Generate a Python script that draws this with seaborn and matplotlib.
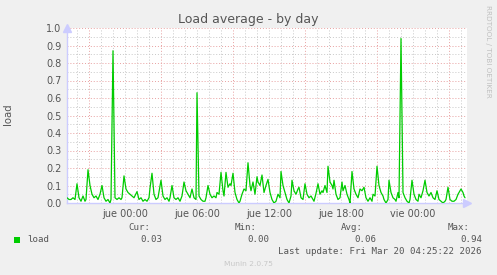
import matplotlib
matplotlib.use("Agg")
import matplotlib.pyplot as plt
import seaborn as sns
import pandas as pd
import numpy as np

# minutes relative to "jue 00:00"
minutes = [-290, -280, -270, -260, -250, -240, -230, -220, -210, -200, -195, -185, -175, -165, -155, -145,
           -135, -125, -115, -105, -95, -85, -75, -70, -60, -50, -40, -30, -20, -15, -5, 5, 15, 25, 35, 45,
           60, 70, 80, 90, 100, 110, 120, 125, 135, 145, 155, 165, 180, 190, 200, 210, 220, 225, 235, 245,
           255, 265, 275, 285, 295, 305, 315, 325, 335, 345, 355, 360, 370, 380, 390, 400, 405, 415, 425,
           435, 445, 455, 460, 470, 480, 490, 495, 505, 515, 525, 530, 540, 550, 560, 570, 575, 585, 595,
           605, 615, 625, 630, 640, 650, 660, 665, 675, 685, 695, 705, 715, 725, 735, 745, 755, 765, 775,
           780, 790, 800, 810, 820, 830, 835, 845, 855, 865, 870, 880, 890, 900, 910, 920, 930, 940, 945,
           955, 965, 975, 985, 990, 1000, 1010, 1015, 1025, 1035, 1040, 1045, 1055, 1065, 1075, 1085, 1090,
           1100, 1110, 1120, 1125, 1135, 1145, 1155, 1165, 1175, 1185, 1195, 1205, 1215, 1225, 1235, 1240,
           1250, 1260, 1270, 1280, 1290, 1295, 1305, 1315, 1320, 1330, 1340, 1350, 1355, 1365, 1370, 1380,
           1390, 1400, 1410, 1420, 1425, 1435, 1445, 1455, 1465, 1470, 1480, 1490, 1500, 1510, 1520, 1530,
           1540, 1550, 1560, 1570, 1580, 1590, 1600, 1605, 1615, 1625, 1635, 1645, 1655, 1665, 1675, 1680,
           1690, 1695, 1700]
load = [0.03, 0.02, 0.02, 0.03, 0.02, 0.11, 0.03, 0.01, 0.04, 0.01, 0.02, 0.19, 0.10, 0.05, 0.03, 0.04,
        0.02, 0.05, 0.10, 0.03, 0.01, 0.02, 0.00, 0.02, 0.87, 0.03, 0.02, 0.03, 0.02, 0.03, 0.155, 0.08,
        0.06, 0.05, 0.04, 0.03, 0.065, 0.02, 0.03, 0.01, 0.02, 0.01, 0.03, 0.085, 0.17, 0.05, 0.02, 0.03,
        0.13, 0.04, 0.02, 0.03, 0.01, 0.03, 0.10, 0.03, 0.02, 0.03, 0.01, 0.04, 0.12, 0.07, 0.05, 0.03,
        0.08, 0.03, 0.02, 0.63, 0.04, 0.02, 0.01, 0.01, 0.03, 0.10, 0.05, 0.03, 0.04, 0.03, 0.06, 0.05,
        0.175, 0.07, 0.04, 0.175, 0.09, 0.11, 0.10, 0.17, 0.06, 0.02, 0.00, 0.01, 0.05, 0.08, 0.07, 0.23,
        0.10, 0.07, 0.12, 0.05, 0.15, 0.12, 0.10, 0.16, 0.06, 0.10, 0.135, 0.06, 0.02, 0.00, 0.01, 0.05,
        0.03, 0.18, 0.10, 0.06, 0.02, 0.00, 0.04, 0.13, 0.07, 0.05, 0.08, 0.09, 0.03, 0.02, 0.11, 0.05,
        0.03, 0.04, 0.02, 0.01, 0.055, 0.11, 0.05, 0.07, 0.06, 0.10, 0.06, 0.21, 0.12, 0.10, 0.08, 0.13,
        0.05, 0.02, 0.03, 0.12, 0.07, 0.10, 0.05, 0.02, 0.00, 0.18, 0.08, 0.05, 0.03, 0.08, 0.07, 0.09,
        0.03, 0.01, 0.03, 0.01, 0.05, 0.04, 0.21, 0.10, 0.06, 0.04, 0.02, 0.00, 0.02, 0.13, 0.06, 0.03,
        0.02, 0.01, 0.06, 0.03, 0.94, 0.06, 0.03, 0.01, 0.00, 0.02, 0.13, 0.05, 0.02, 0.01, 0.05, 0.03,
        0.07, 0.13, 0.06, 0.04, 0.06, 0.03, 0.02, 0.07, 0.02, 0.01, 0.00, 0.01, 0.02, 0.09, 0.02, 0.01,
        0.01, 0.02, 0.05, 0.07, 0.08, 0.06, 0.04, 0.03]

x_tick_hours = [0, 6, 12, 18, 24]
x_tick_labels = ["jue 00:00", "jue 06:00", "jue 12:00", "jue 18:00", "vie 00:00"]
y_ticks = [0.0, 0.1, 0.2, 0.3, 0.4, 0.5, 0.6, 0.7, 0.8, 0.9, 1.0]
stats_names = ["Cur:", "Min:", "Avg:", "Max:"]
stats_values = ["0.03", "0.00", "0.06", "0.94"]
series_name = "load"
title = "Load average - by day"
last_update = "Last update: Fri Mar 20 04:25:22 2026"

df = pd.DataFrame({"hours": np.array(minutes) / 60.0, "load": load})

sns.set_style("white")
plt.rcParams["font.family"] = ["DejaVu Sans"]

W, H = 497, 275
fig = plt.figure(figsize=(W / 100, H / 100), dpi=100, facecolor="#f0f0f0")
ax = fig.add_axes([67 / W, 1 - 203 / H, 400 / W, 175 / H])
ax.set_facecolor("white")

x0, x1 = -290 / 60, 1710 / 60
ax.set_xlim(x0, x1)
ax.set_ylim(0, 1.0)

# grid
minor_c = "#c8c8c8"
major_c = "#e8a0a0"
dot = (0, (1, 2))
for h in np.arange(-4, 29, 1):
    if (h + 3) % 6 == 0:
        continue
    ax.axvline(h, color=minor_c, lw=0.7, ls=dot, zorder=1)
for h in np.arange(-3, 29, 6):
    ax.axvline(h, color=major_c, lw=0.7, ls=dot, zorder=1)
for v in np.arange(0.05, 1.0, 0.1):
    ax.axhline(v, color=minor_c, lw=0.7, ls=dot, zorder=1)
for v in y_ticks[1:]:
    ax.axhline(v, color=major_c, lw=0.7, ls=dot, zorder=1)

sns.lineplot(data=df, x="hours", y="load", ax=ax, color="#00cc00", lw=0.9,
             estimator=None, legend=False, zorder=3)

ax.set_xticks(x_tick_hours)
ax.set_xticklabels(x_tick_labels)
ax.set_yticks(y_ticks)
ax.set_yticklabels([f"{v:.1f}" for v in y_ticks])
ax.tick_params(axis="both", length=0, labelsize=7, labelcolor="#555555", pad=4)
ax.tick_params(axis="x", pad=4)
ax.set_xlabel("")
ax.set_ylabel("")

for s in ["top", "right"]:
    ax.spines[s].set_visible(False)
for s in ["left", "bottom"]:
    ax.spines[s].set_color("#ccccff")
    ax.spines[s].set_linewidth(1.0)

# axis arrows
ax.plot([1.0], [0], marker=">", color="#ccccff", markersize=6, transform=ax.transAxes, clip_on=False)
ax.plot([0], [1.0], marker="^", color="#ccccff", markersize=6, transform=ax.transAxes, clip_on=False)

def fx(px):
    return px / W

def fy(py):
    return 1 - py / H

fig.text(fx(248), fy(19), title, ha="center", va="center", fontsize=9, color="#555555")
fig.text(fx(8), fy(114), series_name, ha="center", va="center", rotation=90, fontsize=7.3, color="#555555")
fig.text(fx(488), fy(5), "RRDTOOL / TOBI OETIKER", ha="center", va="top", rotation=270,
         fontsize=5.2, color="#c0c0c0")

mono = "DejaVu Sans Mono"
fig.patches.append(plt.Rectangle((fx(14), fy(243)), 6 / W, 6 / H, transform=fig.transFigure,
                                 facecolor="#00cc00", edgecolor="none"))
fig.text(fx(27), fy(239.5), series_name, ha="left", va="center", fontsize=6.6, family=mono, color="#555555")
head_x = [150, 257, 363, 470]
val_x = [162, 269, 376, 482]
for hx, vx, n, v in zip(head_x, val_x, stats_names, stats_values):
    fig.text(fx(hx), fy(227), n, ha="right", va="center", fontsize=6.6, family=mono, color="#555555")
    fig.text(fx(vx), fy(239.5), v, ha="right", va="center", fontsize=6.6, family=mono, color="#555555")
fig.text(fx(482), fy(252), last_update, ha="right", va="center", fontsize=6.6, family=mono, color="#555555")
fig.text(fx(248), fy(264), "Munin 2.0.75", ha="center", va="center", fontsize=5.4, color="#c8c8c8")

fig.savefig("out.png", dpi=100, facecolor=fig.get_facecolor())
